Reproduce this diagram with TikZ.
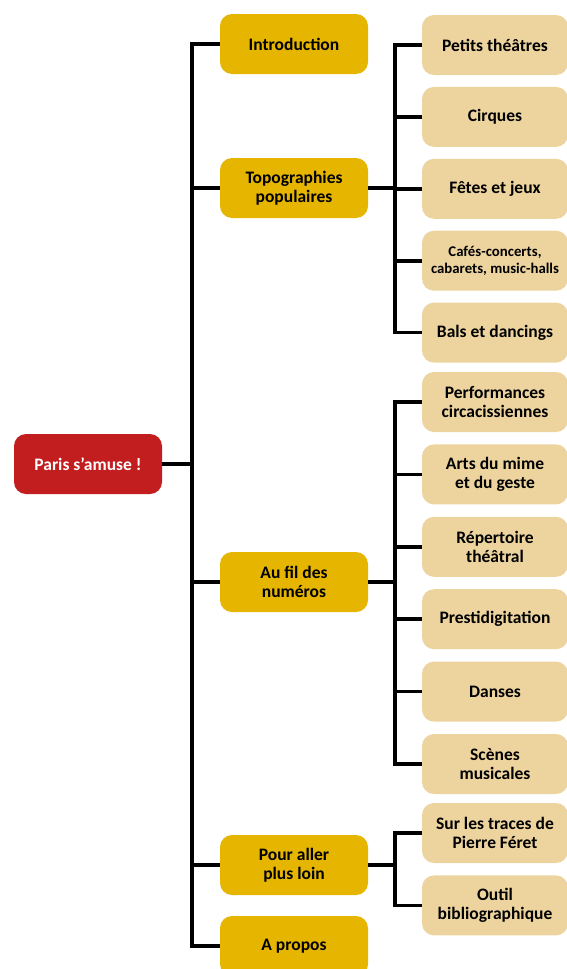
\documentclass[tikz,border=0pt]{standalone}
\usepackage{fontspec}
\setmainfont{Carlito}
\usetikzlibrary{positioning}
\definecolor{rootred}{HTML}{C21E1F}
\definecolor{topgold}{HTML}{E5B500}
\definecolor{subbeige}{HTML}{EDD49F}
\tikzset{
my box/.style={rectangle,rounded corners=12pt,minimum width=148pt,minimum height=60pt,
  align=center,inner sep=2pt,font=\bfseries\fontsize{17.5}{19.5}\selectfont},
root box/.style={my box,fill=rootred,text=white},
topic box/.style={my box,fill=topgold},
sub box/.style={my box,fill=subbeige,minimum width=146pt},
small text/.style={font=\bfseries\fontsize{14.8}{17}\selectfont},
link/.style={line width=3.6pt}, % All connectors thick
}

\begin{document}
\begin{tikzpicture}[x=1pt,y=-1pt]
\useasboundingbox (0,0) rectangle (566,969);
\node[root box] (paris) at (88,464) {Paris s’amuse !};
% first level
\node[topic box] (intro) at (294,44) {Introduction};
\node[topic box] (topo) at (294,188) {Topographies\\populaires};
\node[topic box] (fil) at (294,582) {Au fil des\\numéros};
\node[topic box] (plus) at (294,865) {Pour aller\\plus loin};
\node[topic box] (apropos) at (294,946) {A propos};
% second level
\begin{scope}[node distance=11.5pt]
\node[sub box] (petits) at (495,45) {Petits théâtres};
\node[sub box,below=of petits] (cirques) {Cirques};
\node[sub box,below=of cirques] (fetes) {Fêtes et jeux};
\node[sub box,below=of fetes,small text] (cafes) {Cafés-concerts,\\cabarets, music-halls};
\node[sub box,below=of cafes] (bals) {Bals et dancings};
\end{scope}
\begin{scope}[node distance=12pt]
\node[sub box] (perf) at (495,402) {Performances\\circacissiennes};
\node[sub box,below=of perf] (mime) {Arts du mime\\et du geste};
\node[sub box,below=of mime] (reper) {Répertoire\\théâtral};
\node[sub box,below=of reper] (presti) {Prestidigitation};
\node[sub box,below=of presti] (danses) {Danses};
\node[sub box,below=of danses] (scenes) {Scènes\\musicales};
\node[sub box] (traces) at (495,833) {Sur les traces de\\Pierre Féret};
\node[sub box,below=of traces] (outil) {Outil\\bibliographique};
\end{scope}
% connectors
\foreach \n in {intro,topo,fil,plus,apropos}
  \draw[link] (paris.east) -- ++(30,0) |- (\n.west);
\foreach \n in {petits,cirques,fetes,cafes,bals}
  \draw[link] (topo.east) -- ++(27,0) |- (\n.west);
\foreach \n in {perf,mime,reper,presti,danses,scenes}
  \draw[link] (fil.east) -- ++(27,0) |- (\n.west);
\foreach \n in {traces,outil}
  \draw[link] (plus.east) -- ++(27,0) |- (\n.west);
\end{tikzpicture}
\end{document}
